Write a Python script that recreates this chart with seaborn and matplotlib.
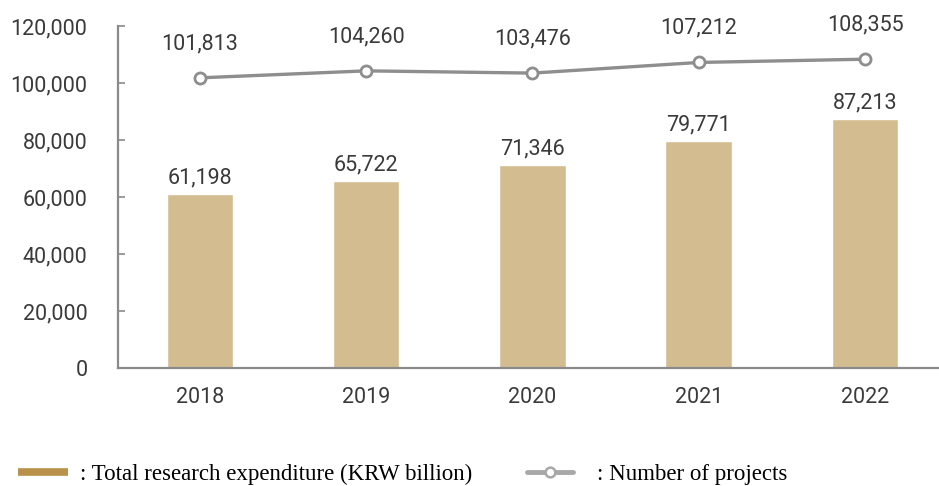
import matplotlib
matplotlib.use("Agg")
import matplotlib.pyplot as plt
import seaborn as sns
import pandas as pd
from matplotlib.lines import Line2D

years = ["2018", "2019", "2020", "2021", "2022"]
expenditure = [61198, 65722, 71346, 79771, 87213]
projects = [101813, 104260, 103476, 107212, 108355]
yticks = [0, 20000, 40000, 60000, 80000, 100000, 120000]

bar_color = "#D4BC91"
legend_bar_color = "#B8914A"
line_color = "#8E8E8E"
text_color = "#3A3A3A"

sns.set_theme(style="white")
plt.rcParams["font.family"] = ["Roboto", "DejaVu Sans"]

df = pd.DataFrame({"year": years, "expenditure": expenditure, "projects": projects})

fig = plt.figure(figsize=(9.39, 4.86), dpi=100)
ax = fig.add_axes([118 / 939, (486 - 368) / 486, (939 - 118) / 939, (368 - 26) / 486])

sns.barplot(data=df, x="year", y="expenditure", color=bar_color, width=0.4,
            saturation=1, ax=ax, zorder=2)
sns.pointplot(data=df, x="year", y="projects", color=line_color, ax=ax,
              markers="o", linestyles="-", linewidth=2.4, markersize=8,
              markerfacecolor="white", markeredgecolor=line_color,
              markeredgewidth=2.0, zorder=3)

ax.bar_label(ax.containers[0], labels=[f"{v:,}" for v in expenditure],
             padding=4, fontsize=15.5, color=text_color)
for i, v in enumerate(projects):
    ax.annotate(f"{v:,}", (i, v), xytext=(0, 17), textcoords="offset points",
                ha="center", va="bottom", fontsize=15.5, color=text_color)

ax.set_xlim(-0.493, 4.445)
ax.set_ylim(0, 120000)
ax.set_yticks(yticks)
ax.set_yticklabels([f"{t:,}" for t in yticks])
ax.set_xlabel("")
ax.set_ylabel("")
ax.tick_params(axis="y", direction="in", length=5, width=1.2, color="#8A8A8A",
               labelsize=15.5, labelcolor=text_color, pad=22, left=True)
ax.tick_params(axis="x", length=0, labelsize=15.5, labelcolor=text_color, pad=14)
for s in ["top", "right"]:
    ax.spines[s].set_visible(False)
for s in ["left", "bottom"]:
    ax.spines[s].set_color("#8A8A8A")
    ax.spines[s].set_linewidth(1.6)

serif = ["Liberation Serif", "DejaVu Serif"]
h1 = Line2D([], [], color=legend_bar_color, linewidth=5.5, solid_capstyle="butt")
h2 = Line2D([], [], color="#A8A8A8", linewidth=3.5, marker="o", markersize=7,
            markerfacecolor="white", markeredgecolor="#A8A8A8", markeredgewidth=1.8)
leg1 = fig.legend([h1], [": Total research expenditure (KRW billion)"],
                  loc="center left", bbox_to_anchor=(18 / 939, (486 - 474) / 486),
                  frameon=False, borderpad=0, borderaxespad=0,
                  handlelength=2.18, handletextpad=0.52,
                  prop={"family": serif, "size": 16.5})
leg2 = fig.legend([h2], [": Number of projects"],
                  loc="center left", bbox_to_anchor=(527 / 939, (486 - 474) / 486),
                  frameon=False, borderpad=0, borderaxespad=0,
                  handlelength=2.0, handletextpad=1.05,
                  prop={"family": serif, "size": 16.5})
for leg in (leg1, leg2):
    for t in leg.get_texts():
        t.set_color("black")

fig.savefig("out.png", dpi=100)
